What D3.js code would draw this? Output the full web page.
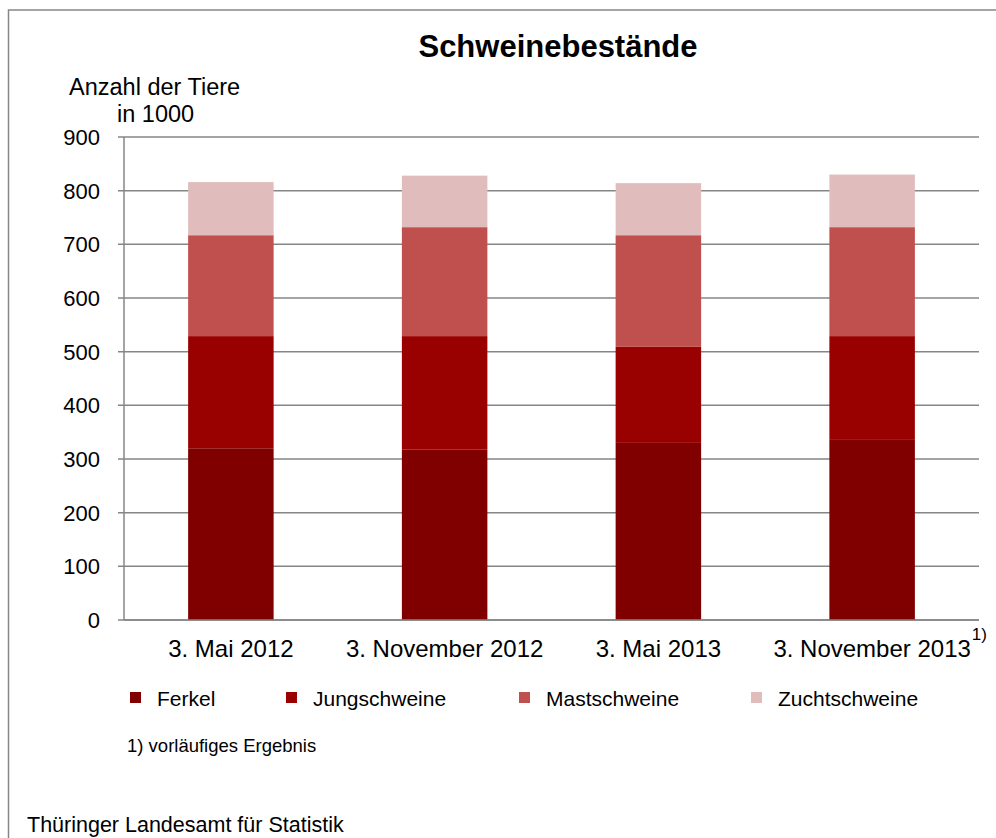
<!DOCTYPE html>
<meta charset="utf-8">
<style>
body { margin: 0; background: #fff; }
text { font-family: "Liberation Sans", Arial, sans-serif; fill: #000; }
.grid line { stroke: #868686; stroke-width: 1.5px; }
</style>
<body>
<script src="https://d3js.org/d3.v7.min.js"></script>
<script>

// stichtage and values in 1000 animals
var categories = ["3. Mai 2012", "3. November 2012", "3. Mai 2013", "3. November 2013"];
var seriesNames = ["Ferkel", "Jungschweine", "Mastschweine", "Zuchtschweine"];
var ferkel = [320, 318, 330, 337];
var jungschweine = [209, 211, 179, 192];
var mastschweine = [188, 203, 208, 203];
var zuchtschweine = [99, 96, 97, 98];
var yTicks = [0, 100, 200, 300, 400, 500, 600, 700, 800, 900];

var colors = ["#800000", "#990000", "#c0504d", "#e0bcbc"];

var data = categories.map(function(c, i) {
  return {cat: c, Ferkel: ferkel[i], Jungschweine: jungschweine[i],
          Mastschweine: mastschweine[i], Zuchtschweine: zuchtschweine[i]};
});

var W = 996, H = 838;
var margin = {top: 137, right: 17, bottom: 218, left: 124},
    width = W - margin.left - margin.right,
    height = H - margin.top - margin.bottom;

var svg = d3.select("body").append("svg")
    .attr("width", W)
    .attr("height", H);

// outer frame
svg.append("rect")
    .attr("x", 8.5).attr("y", 10)
    .attr("width", 1000).attr("height", 900)
    .attr("fill", "none")
    .attr("stroke", "#868686")
    .attr("stroke-width", 1.5);

var g = svg.append("g")
    .attr("transform", "translate(" + margin.left + "," + margin.top + ")");

var x = d3.scaleBand().domain(categories).range([0, width]).paddingInner(0.6).paddingOuter(0.3);
var y = d3.scaleLinear().domain([0, 900]).range([height, 0]);

// gridlines
g.append("g")
    .attr("class", "grid")
    .selectAll("line")
    .data(yTicks)
  .enter().append("line")
    .attr("x1", -6).attr("x2", width)
    .attr("y1", function(d) { return y(d); })
    .attr("y2", function(d) { return y(d); });

// y axis line
g.append("line")
    .attr("x1", 0).attr("x2", 0)
    .attr("y1", 0).attr("y2", height)
    .attr("stroke", "#868686").attr("stroke-width", 1.5);

// y tick labels
g.selectAll(".ylab")
    .data(yTicks)
  .enter().append("text")
    .attr("x", -24)
    .attr("y", function(d) { return y(d); })
    .attr("dy", "0.36em")
    .attr("text-anchor", "end")
    .style("font-size", "22px")
    .text(function(d) { return d; });

// stacked bars
var stack = d3.stack().keys(seriesNames);
var layers = stack(data);

g.selectAll(".layer")
    .data(layers)
  .enter().append("g")
    .attr("fill", function(d, i) { return colors[i]; })
  .selectAll("rect")
    .data(function(d) { return d; })
  .enter().append("rect")
    .attr("x", function(d) { return x(d.data.cat); })
    .attr("width", x.bandwidth())
    .attr("y", function(d) { return y(d[1]); })
    .attr("height", function(d) { return y(d[0]) - y(d[1]); });

// x axis baseline
g.append("line")
    .attr("x1", 0).attr("x2", width)
    .attr("y1", height).attr("y2", height)
    .attr("stroke", "#868686").attr("stroke-width", 1.5);

// x labels
var xl = g.selectAll(".xlab")
    .data(categories)
  .enter().append("text")
    .attr("x", function(d) { return x(d) + x.bandwidth() / 2; })
    .attr("y", height + 37)
    .attr("text-anchor", "middle")
    .style("font-size", "24px")
    .text(function(d) { return d; });

// footnote marker on last category
var lastX = x(categories[3]) + x.bandwidth() / 2;
var lastW = xl.nodes()[3].getComputedTextLength();
g.append("text")
    .attr("x", lastX + lastW / 2 + 1)
    .attr("y", height + 20)
    .style("font-size", "17px")
    .text("1)");

// title
svg.append("text")
    .attr("x", 558).attr("y", 57)
    .attr("text-anchor", "middle")
    .style("font-size", "31px")
    .style("font-weight", "bold")
    .text("Schweinebestände");

// y axis title
svg.append("text")
    .attr("x", 69).attr("y", 95)
    .style("font-size", "23.5px")
    .text("Anzahl der Tiere");
svg.append("text")
    .attr("x", 117).attr("y", 122)
    .style("font-size", "23.5px")
    .text("in 1000");

// legend
var legendX = [130, 286, 519, 751];
var legend = svg.selectAll(".legend")
    .data(seriesNames)
  .enter().append("g")
    .attr("transform", function(d, i) { return "translate(" + legendX[i] + ",698)"; });

legend.append("rect")
    .attr("x", 0).attr("y", -6)
    .attr("width", 11).attr("height", 11)
    .attr("fill", function(d, i) { return colors[i]; });

legend.append("text")
    .attr("x", 27).attr("y", 0)
    .attr("dy", "0.36em")
    .style("font-size", "21px")
    .text(function(d) { return d; });

// footnote and source
svg.append("text")
    .attr("x", 127).attr("y", 752)
    .style("font-size", "18.5px")
    .text("1) vorläufiges Ergebnis");

svg.append("text")
    .attr("x", 27).attr("y", 832)
    .style("font-size", "21.5px")
    .text("Thüringer Landesamt für Statistik");

</script>
</body>
